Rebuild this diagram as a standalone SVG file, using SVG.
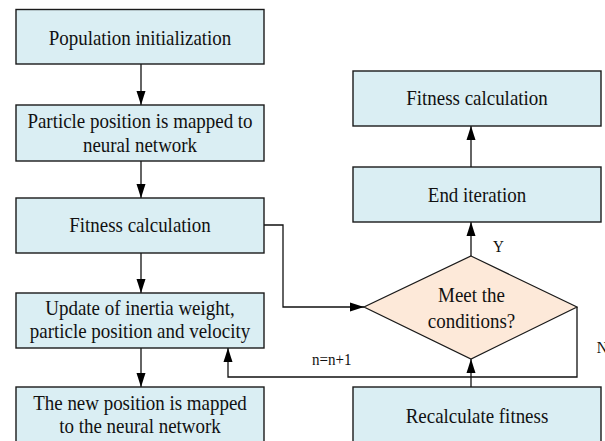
<svg xmlns="http://www.w3.org/2000/svg" width="605" height="441" viewBox="0 0 605 441">
<style>
.box{fill:#daeef3;stroke:#1a1a1a;stroke-width:1.4}
.dia{fill:#fde9d9;stroke:#1a1a1a;stroke-width:1.2}
text{font-family:'Liberation Serif','DejaVu Serif','Times New Roman',serif;fill:#111}
.t{font-size:22px;text-anchor:middle}
.s{font-size:17.5px}
.c{fill:none;stroke:#111;stroke-width:1.3}
</style>
<defs>
<marker id="ah" markerUnits="userSpaceOnUse" markerWidth="14" markerHeight="10" refX="14" refY="5" orient="auto">
<path d="M0,0.5 L14,5 L0,9.5 z" fill="#000"/>
</marker>
</defs>
<rect width="605" height="441" fill="#fff"/>
<g id="connectors">
<line class="c" x1="141" y1="64" x2="141" y2="105" marker-end="url(#ah)"/>
<line class="c" x1="141" y1="161" x2="141" y2="198" marker-end="url(#ah)"/>
<line class="c" x1="141" y1="253" x2="141" y2="293" marker-end="url(#ah)"/>
<line class="c" x1="141" y1="348" x2="141" y2="387" marker-end="url(#ah)"/>
<polyline class="c" points="264,225 283,225 283,307 364,307" marker-end="url(#ah)"/>
<line class="c" x1="471" y1="256" x2="471" y2="222" marker-end="url(#ah)"/>
<line class="c" x1="471" y1="167" x2="471" y2="126" marker-end="url(#ah)"/>
<line class="c" x1="471" y1="387" x2="471" y2="359" marker-end="url(#ah)"/>
<polyline class="c" points="577,307 577,377 228,377 228,348" marker-end="url(#ah)"/>
<text class="s" font-family="Liberation Serif, serif" transform="translate(493 251.7) scale(0.862 1)">Y</text>
<text class="s" font-family="Liberation Serif, serif" transform="translate(312 365) scale(0.862 1)">n=n+1</text>
<text class="s" font-family="Liberation Serif, serif" transform="translate(596.7 353) scale(0.862 1)">N</text>
</g>
<g id="n1">
<rect class="box" x="16" y="9.5" width="248" height="54.5"/>
<text class="t" font-family="Liberation Serif, serif" transform="translate(140 45) scale(0.862 1)">Population initialization</text>
</g>
<g id="n2">
<rect class="box" x="16" y="105" width="248" height="56"/>
<text class="t" font-family="Liberation Serif, serif" transform="translate(140 128) scale(0.862 1)">Particle position is mapped to</text>
<text class="t" font-family="Liberation Serif, serif" transform="translate(140 152) scale(0.862 1)">neural network</text>
</g>
<g id="n3">
<rect class="box" x="16" y="198" width="248" height="55"/>
<text class="t" font-family="Liberation Serif, serif" transform="translate(140 232) scale(0.862 1)">Fitness calculation</text>
</g>
<g id="n4">
<rect class="box" x="16" y="293" width="248" height="55"/>
<text class="t" font-family="Liberation Serif, serif" transform="translate(140 315) scale(0.862 1)">Update of inertia weight,</text>
<text class="t" font-family="Liberation Serif, serif" transform="translate(140 338) scale(0.862 1)">particle position and velocity</text>
</g>
<g id="n5">
<rect class="box" x="16" y="387" width="248" height="60"/>
<text class="t" font-family="Liberation Serif, serif" transform="translate(140 410) scale(0.862 1)">The new position is mapped</text>
<text class="t" font-family="Liberation Serif, serif" transform="translate(140 433) scale(0.862 1)">to the neural network</text>
</g>
<g id="n6">
<rect class="box" x="353" y="71" width="248" height="55"/>
<text class="t" font-family="Liberation Serif, serif" transform="translate(477 105) scale(0.862 1)">Fitness calculation</text>
</g>
<g id="n7">
<rect class="box" x="353" y="167" width="248" height="55"/>
<text class="t" font-family="Liberation Serif, serif" transform="translate(477 201.5) scale(0.862 1)">End iteration</text>
</g>
<g id="n8">
<polygon class="dia" points="471,256 577,307 471,359 364,307"/>
<text class="t" font-family="Liberation Serif, serif" transform="translate(471.5 301.5) scale(0.862 1)">Meet the</text>
<text class="t" font-family="Liberation Serif, serif" transform="translate(471.5 328) scale(0.862 1)">conditions?</text>
</g>
<g id="n9">
<rect class="box" x="353" y="387" width="248" height="60"/>
<text class="t" font-family="Liberation Serif, serif" transform="translate(477 422.5) scale(0.862 1)">Recalculate fitness</text>
</g>
</svg>
